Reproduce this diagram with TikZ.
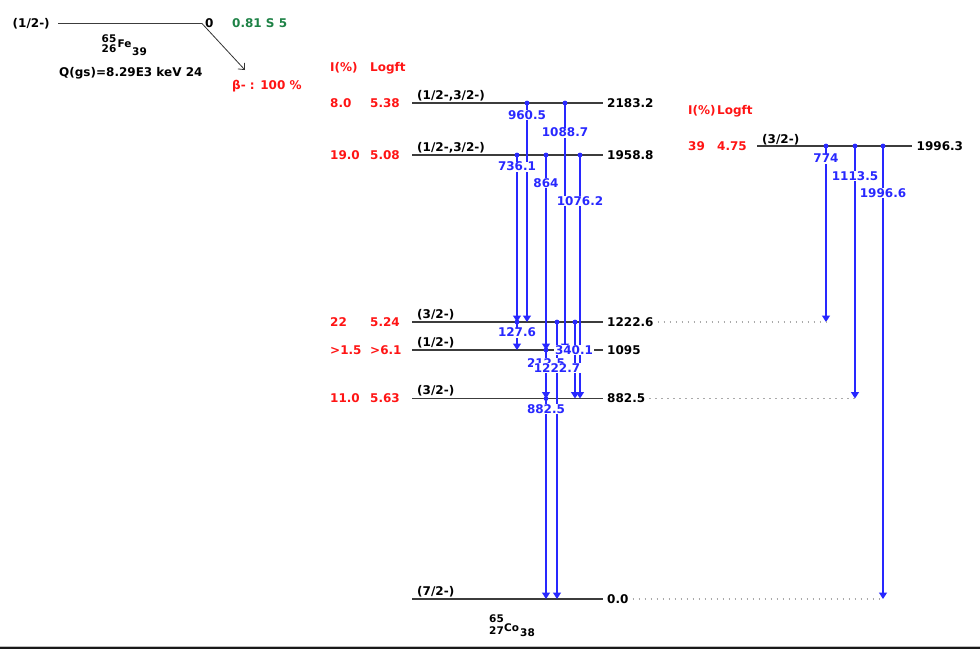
\documentclass[tikz,border=0pt]{standalone}
\usepackage{fontspec}
\setmainfont{DejaVu Sans}
\usetikzlibrary{arrows.meta}
\definecolor{gamblue}{RGB}{40,40,255}
\definecolor{lvlgray}{RGB}{60,60,60}
\definecolor{intred}{RGB}{255,20,20}
\definecolor{halfgreen}{RGB}{30,130,70}
\definecolor{dotgray}{RGB}{170,170,170}
\begin{document}
\begin{tikzpicture}[x=1pt,y=-1pt,
  base/.style={inner sep=0pt, text height=8.4pt, text depth=0pt,
               font=\fontsize{12}{14}\selectfont\bfseries},
  txt/.style={base, anchor=west, text=black},
  inten/.style={base, anchor=west, text=intred},
  nuc/.style={inner sep=0pt, text height=7.6pt, text depth=0pt, anchor=west,
              font=\fontsize{10.5}{12}\selectfont\bfseries},
  glab/.style={base, anchor=center, text=gamblue, fill=white,
               inner xsep=0.6pt, inner ysep=0.8pt},
  lvl/.style={draw=lvlgray, line width=1.3pt},
  gam/.style={draw=gamblue, line width=1.4pt, -{Triangle[width=8pt,length=6.5pt]}},
  dotline/.style={draw=dotgray, line width=1.2pt, dash pattern=on 1.2pt off 4.8pt},
]
\useasboundingbox (0,0) rectangle (980,649);

% ---- parent state: 65Fe ----
\node[txt] (pspin) at (12.5,23) {(1/2-)};
\node[txt] (pE) at (205,23) {0};
\node[txt, text=halfgreen] (pT) at (232,23) {0.81 S 5};
\coordinate (pw) at (58,23.5);
\coordinate (pe) at (202,23.5);
\draw[lvl, line width=1pt] (pw) -- (pe);
\coordinate (btip) at (245,70);
\draw[black!80, line width=0.8pt, -{Straight Barb[length=5pt,width=9pt]}] (pe) -- (btip);
\node[nuc] (feA) at (101.5,38.5) {65};
\node[nuc] (feZ) at (101.5,49) {26};
\node[nuc] (feX) at (117.5,43.5) {Fe};
\node[nuc] (feN) at (132,52) {39};
\node[txt] (Q) at (59,72) {Q(gs)=8.29E3 keV 24};
\node[inten] (bm) at (232,85) {β- : 100 \%};

% ---- column headers ----
\node[inten] (hI) at (330,67) {I(\%)};
\node[inten] (hF) at (370,67) {Logft};
\node[inten] (hI2) at (688,110) {I(\%)};
\node[inten] (hF2) at (717,110) {Logft};

% ---- daughter levels: 65Co ----
\foreach \n/\y in {2183/103, 1958/155, 1222/322, 1095/350, 882/398.5, 0/599} {
  \coordinate (L\n-w) at (412,\y);
  \coordinate (L\n-e) at (603,\y);
  \draw[lvl] (L\n-w) -- (L\n-e);
}
\coordinate (L1996-w) at (757,146);
\coordinate (L1996-e) at (912,146);
\draw[lvl] (L1996-w) -- (L1996-e);

% energies
\node[txt] (E2183) at (607,103) {2183.2};
\node[txt] (E1958) at (607,155) {1958.8};
\node[txt] (E1222) at (607,322) {1222.6};
\node[txt] (E1095) at (607,350) {1095};
\node[txt] (E882) at (607,398.5) {882.5};
\node[txt] (E0) at (607,599) {0.0};
\node[txt] (E1996) at (916.5,146) {1996.3};

% spins
\node[txt] (S2183) at (417,95) {(1/2-,3/2-)};
\node[txt] (S1958) at (417,147) {(1/2-,3/2-)};
\node[txt] (S1222) at (417,314.5) {(3/2-)};
\node[txt] (S1095) at (417,342.5) {(1/2-)};
\node[txt] (S882) at (417,390.5) {(3/2-)};
\node[txt] (S0) at (417,591.5) {(7/2-)};
\node[txt] (S1996) at (762,139) {(3/2-)};

% feeding intensities and log ft
\node[inten] (I2183) at (330,103) {8.0};   \node[inten] (F2183) at (370,103) {5.38};
\node[inten] (I1958) at (330,155) {19.0};  \node[inten] (F1958) at (370,155) {5.08};
\node[inten] (I1222) at (330,322) {22};    \node[inten] (F1222) at (370,322) {5.24};
\node[inten] (I1095) at (330,350) {>1.5};  \node[inten] (F1095) at (370,350) {>6.1};
\node[inten] (I882) at (330,398.5) {11.0}; \node[inten] (F882) at (370,398.5) {5.63};
\node[inten] (I1996) at (688,146) {39};    \node[inten] (F1996) at (717,146) {4.75};

% gamma transitions
\foreach \n/\x/\ya/\yb in {
  g960/527/103/322, g1088/565/103/350,
  g736/517/155/322, g864/546/155/350, g1076/580/155/398.5,
  g127/517/322/350, g340/575/322/398.5, g1222/557/322/599,
  g212/546/350/398.5, g882/546/398.5/599,
  g774/826/146/322, g1113/855/146/398.5, g1996/883/146/599} {
  \coordinate (\n-s) at (\x,\ya);
  \coordinate (\n-e) at (\x,\yb);
  \draw[gam] (\n-s) -- (\n-e);
  \fill[gamblue] (\n-s) circle (2.4);
}

% guide lines to the right-hand level's decays
\draw[dotline] ([xshift=4pt]E1222.east) -- (g774-e);
\draw[dotline] ([xshift=4pt]E882.east) -- (g1113-e);
\draw[dotline] ([xshift=4pt]E0.east) -- (g1996-e);

% gamma energies
\foreach \n/\x/\y/\t in {
  g960/527/115/960.5, g1088/565/132.5/1088.7,
  g736/517/166.5/736.1, g864/546/183/864, g1076/580/201/1076.2,
  g127/517/332.5/127.6, g340/574/350/340.1,
  g212/546/363/212.5, g1222/557/368/1222.7, g882/546/409/882.5,
  g774/826/158.5/774, g1113/855/176/1113.5, g1996/883/193/1996.6} {
  \node[glab] (\n-l) at (\x,\y) {\t};
}

% daughter nuclide
\node[nuc] (coA) at (489,618.5) {65};
\node[nuc] (coZ) at (489,630.5) {27};
\node[nuc] (coX) at (504,627.5) {Co};
\node[nuc] (coN) at (520,633) {38};

% bottom edge
\fill[black!90] (0,646.3) rectangle (980,649);
\draw[gray!50, line width=0.6pt] (0,645.9) -- (980,645.9);
\end{tikzpicture}
\end{document}
